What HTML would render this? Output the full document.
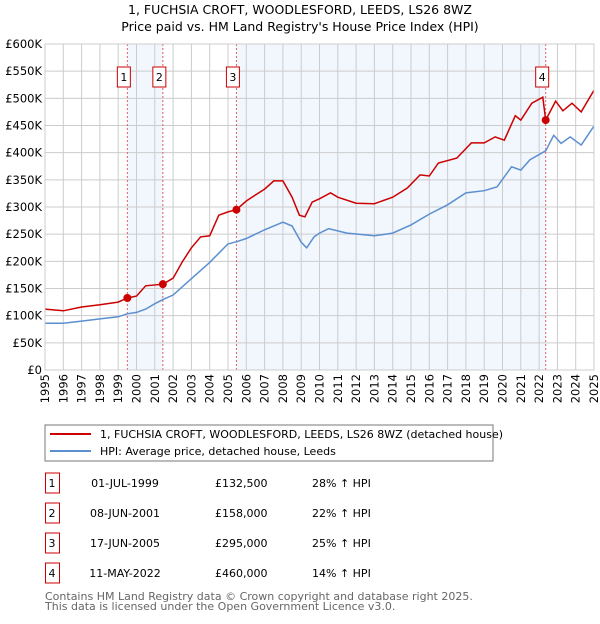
<!DOCTYPE html>
<html><head><meta charset="utf-8"><style>
body{margin:0;background:#fff;font-family:"DejaVu Sans","Liberation Sans",sans-serif;}
svg text{font-family:"DejaVu Sans","Liberation Sans",sans-serif;}
</style></head><body>
<svg id="c" width="600" height="620" xmlns="http://www.w3.org/2000/svg">
<text x="300" y="14" text-anchor="middle" font-size="12.5" fill="#000">1, FUCHSIA CROFT, WOODLESFORD, LEEDS, LS26 8WZ</text>
<text x="300" y="31" text-anchor="middle" font-size="12.5" fill="#000">Price paid vs. HM Land Registry's House Price Index (HPI)</text>
<g id="plot"></g>
<rect x="45" y="425" width="448" height="36" fill="#fff" stroke="#777"/>
<line x1="50" y1="434" x2="91" y2="434" stroke="#cc0000" stroke-width="2"/>
<text x="100" y="438" font-size="11">1, FUCHSIA CROFT, WOODLESFORD, LEEDS, LS26 8WZ (detached house)</text>
<line x1="50" y1="451" x2="91" y2="451" stroke="#5b8fd0" stroke-width="2"/>
<text x="100" y="455" font-size="11">HPI: Average price, detached house, Leeds</text>
<g id="tbl"></g>
<text x="45" y="600" font-size="11" fill="#666">Contains HM Land Registry data © Crown copyright and database right 2025.</text>
<text x="45" y="610" font-size="11" fill="#666">This data is licensed under the Open Government Licence v3.0.</text>
</svg>
<script>
const hpiYears=[1995,1996,1997,1998,1999,1999.5,2000,2000.5,2001,2001.44,2002,2003,2004,2004.5,2005,2005.46,2006,2007,2008,2008.5,2009,2009.3,2009.7,2010,2010.5,2011.5,2013,2014,2015,2016,2017,2018,2019,2019.7,2020.5,2021,2021.5,2022.36,2022.8,2023.2,2023.7,2024.3,2025];
const hpiValues=[86,86,90,94,98,103.5,106,112,122,129.5,138,168,198,215,232,236,242,258,272,265,235,225,245,252,260,252,247,252,267,287,304,326,330,337,374,368,387,403.5,432,417,429,414,449];
const propYears=[1995,1996,1997,1998,1999,1999.5,2000,2000.5,2001.44,2002,2002.5,2003,2003.5,2004,2004.5,2005,2005.46,2006,2006.5,2007,2007.5,2008,2008.5,2008.9,2009.2,2009.6,2010,2010.6,2011,2012,2013,2014,2014.8,2015.5,2016,2016.5,2017.5,2018.3,2019,2019.6,2020.1,2020.7,2021,2021.6,2022.2,2022.36,2022.9,2023.3,2023.8,2024.3,2025];
const propValues=[112,109,116,120,125,132.5,136,155,158,169,199,225,245,247,285,291,295,311,322,333,348,348,318,285,282,309,315,326,318,307,306,318,335,359,357,381,390,418,418,429,423,468,460,491,502,460,495,477,491,475,515];
const saleLabels=["1","2","3","4"];
const saleYears=[1999.5,2001.44,2005.46,2022.36];
const salePrices=[132.5,158,295,460];
const saleDates=["01-JUL-1999","08-JUN-2001","17-JUN-2005","11-MAY-2022"];
const salePriceText=["£132,500","£158,000","£295,000","£460,000"];
const saleHpiText=["28% ↑ HPI","22% ↑ HPI","25% ↑ HPI","14% ↑ HPI"];
const yTicks=[0,50,100,150,200,250,300,350,400,450,500,550,600];
const yTickLabels=["£0","£50K","£100K","£150K","£200K","£250K","£300K","£350K","£400K","£450K","£500K","£550K","£600K"];
const xTicks=[1995,1996,1997,1998,1999,2000,2001,2002,2003,2004,2005,2006,2007,2008,2009,2010,2011,2012,2013,2014,2015,2016,2017,2018,2019,2020,2021,2022,2023,2024,2025];

const L=45,R=594,T=44,B=370;
const X=y=>L+(y-1995)*(R-L)/30;
const Y=v=>B-v*(B-T)/600;
const NS="http://www.w3.org/2000/svg";
const g=document.getElementById('plot');
function mk(t,a,p){const e=document.createElementNS(NS,t);for(const k in a)e.setAttribute(k,a[k]);(p||g).appendChild(e);return e;}
let e=mk('rect',{x:L,y:T,width:R-L,height:B-T,fill:'#fff'});


[[0,1],[2,3]].forEach((p,i)=>{const s=mk('rect',{x:X(saleYears[p[0]]),y:T,width:X(saleYears[p[1]])-X(saleYears[p[0]]),height:B-T,fill:'#eef3fc',opacity:0.75});

});
yTicks.forEach((v,i)=>{const l=mk('line',{x1:L,x2:R,y1:Y(v),y2:Y(v),stroke:'#ccc','stroke-width':1});


const t=mk('text',{x:L-3,y:Y(v)+4,'text-anchor':'end','font-size':11.5});t.textContent=yTickLabels[i];

});
xTicks.forEach(yr=>{const l=mk('line',{x1:X(yr),x2:X(yr),y1:T,y2:B,stroke:'#ccc','stroke-width':1});


const tx=X(yr)+4, ty=B+4;
const t=mk('text',{x:tx,y:ty,'text-anchor':'end','font-size':11.5,transform:'rotate(-90 '+tx+' '+ty+')'});t.textContent=yr;

});
saleYears.forEach((yr,i)=>{const l=mk('line',{x1:X(yr),x2:X(yr),y1:T,y2:B,stroke:'#e06060','stroke-width':1,'stroke-dasharray':'2,2'});


const bx=mk('rect',{x:X(yr)-10,y:67,width:13,height:20,fill:'#fff',stroke:'#cc0000'});


const t=mk('text',{x:X(yr)-3.5,y:81,'text-anchor':'middle','font-size':11});t.textContent=saleLabels[i];

});
function path(xs,vs){return xs.map((x,i)=>(i?'L':'M')+X(x).toFixed(1)+','+Y(vs[i]).toFixed(1)).join('');}
e=mk('path',{d:path(hpiYears,hpiValues),fill:'none',stroke:'#5b8fd0','stroke-width':1.5});


e=mk('path',{d:path(propYears,propValues),fill:'none',stroke:'#cc0000','stroke-width':1.5});


saleYears.forEach((yr,i)=>{const c=mk('circle',{cx:X(yr),cy:Y(salePrices[i]),r:4,fill:'#cc0000'});

});
e=mk('rect',{x:L,y:T,width:R-L,height:B-T,fill:'none',stroke:'#ccc'});


const tb=document.getElementById('tbl');
saleLabels.forEach((lab,i)=>{const cy=483+i*30;
const b=mk('rect',{x:45.5,y:cy-10,width:14,height:20,fill:'#fff',stroke:'#cc0000'},tb);


const cols=[[52,lab,'middle'],[125,saleDates[i],'middle'],[215,salePriceText[i],'start'],[312,saleHpiText[i],'start']];
cols.forEach((c,j)=>{const t=mk('text',{x:c[0],y:cy+4,'text-anchor':c[2],'font-size':11},tb);t.textContent=c[1];

});});
</script>
</body></html>
